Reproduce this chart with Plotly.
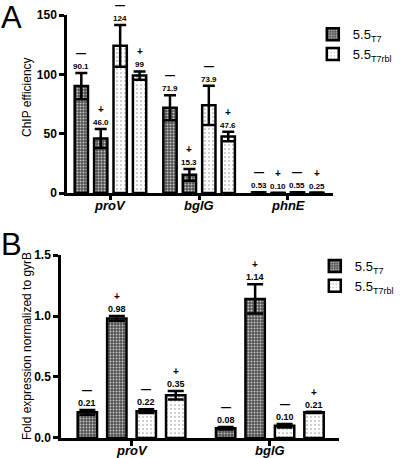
import plotly.graph_objects as go

# ---------------- Data: panel A (ChIP efficiency) ----------------
genes_A = ["proV", "bglG", "phnE"]
A_t7_minus = [90.1, 71.9, 0.53]
A_t7_minus_err = [11, 10.5, 0]
A_t7_plus = [46.0, 15.3, 0.10]
A_t7_plus_err = [8, 5, 0]
A_rbl_minus = [124, 73.9, 0.55]
A_rbl_minus_err = [17.5, 16.5, 0]
A_rbl_plus = [99, 47.6, 0.25]
A_rbl_plus_err = [3.5, 4, 0]
A_lbl_t7_minus = ["90.1", "71.9", "0.53"]
A_lbl_t7_plus = ["46.0", "15.3", "0.10"]
A_lbl_rbl_minus = ["124", "73.9", "0.55"]
A_lbl_rbl_plus = ["99", "47.6", "0.25"]
A_yticks = [0, 50, 100, 150]

# ---------------- Data: panel B (fold expression) ----------------
genes_B = ["proV", "bglG"]
B_t7_minus = [0.21, 0.08]
B_t7_minus_err = [0.02, 0.01]
B_t7_plus = [0.98, 1.14]
B_t7_plus_err = [0.02, 0.12]
B_rbl_minus = [0.22, 0.10]
B_rbl_minus_err = [0.015, 0.015]
B_rbl_plus = [0.35, 0.21]
B_rbl_plus_err = [0.035, 0.006]
B_lbl_t7_minus = ["0.21", "0.08"]
B_lbl_t7_plus = ["0.98", "1.14"]
B_lbl_rbl_minus = ["0.22", "0.10"]
B_lbl_rbl_plus = ["0.35", "0.21"]
B_yticks = [0, 0.5, 1.0, 1.5]

series_names = ["5.5<sub>T7</sub>", "5.5<sub>T7rbl</sub>"]
signs = ["—", "+"]

FONT = "Liberation Sans, Arial, sans-serif"
pat_dark = dict(shape=".", bgcolor="#505050", fgcolor="#c4c4c4", size=3, solidity=0.35, fillmode="replace")
pat_light = dict(shape=".", bgcolor="#ffffff", fgcolor="#8a8a8a", size=4, solidity=0.12, fillmode="replace")

fig = go.Figure()
annotations = []


def add_panel(genes, minus1, err_m1, plus1, err_p1, minus2, err_m2, plus2, err_p2,
              lbls, d, w, xa, ya, legend, errw, lblsize):
    xs1, ys1, es1, xs2, ys2, es2 = [], [], [], [], [], []
    for i in range(len(genes)):
        xs1 += [i - 1.5 * d, i - 0.5 * d]
        ys1 += [minus1[i], plus1[i]]
        es1 += [err_m1[i], err_p1[i]]
        xs2 += [i + 0.5 * d, i + 1.5 * d]
        ys2 += [minus2[i], plus2[i]]
        es2 += [err_m2[i], err_p2[i]]
    for name, xs, ys, es, pat in [(series_names[0], xs1, ys1, es1, pat_dark),
                                  (series_names[1], xs2, ys2, es2, pat_light)]:
        fig.add_trace(go.Bar(
            x=xs, y=ys, width=w, name=name, xaxis=xa, yaxis=ya, legend=legend,
            marker=dict(color="#ffffff", pattern=pat, line=dict(color="black", width=2.5)),
            error_y=dict(type="data", array=es, visible=True, color="black",
                         thickness=2.5, width=errw),
            cliponaxis=False,
        ))
    (l_m1, l_p1, l_m2, l_p2) = lbls
    for i in range(len(genes)):
        items = [(i - 1.5 * d, minus1[i] + err_m1[i], l_m1[i], signs[0]),
                 (i - 0.5 * d, plus1[i] + err_p1[i], l_p1[i], signs[1]),
                 (i + 0.5 * d, minus2[i] + err_m2[i], l_m2[i], signs[0]),
                 (i + 1.5 * d, plus2[i] + err_p2[i], l_p2[i], signs[1])]
        for x, y, t, s in items:
            annotations.append(dict(x=x, y=y, xref=xa, yref=ya, text="<b>%s</b>" % t,
                                    showarrow=False, yanchor="bottom", yshift=0,
                                    font=dict(size=lblsize, family=FONT, color="black")))
            annotations.append(dict(x=x, y=y, xref=xa, yref=ya, text="<b>%s</b>" % s,
                                    showarrow=False, yanchor="bottom", yshift=12,
                                    font=dict(size=10, family=FONT, color="black")))
    # category labels under the axis
    for i, g in enumerate(genes):
        annotations.append(dict(x=i, y=0, xref=xa, yref=ya, text="<b><i>%s</i></b>" % g,
                                showarrow=False, yanchor="top", yshift=-3,
                                font=dict(size=13, family=FONT, color="black")))


add_panel(genes_A, A_t7_minus, A_t7_minus_err, A_t7_plus, A_t7_plus_err,
          A_rbl_minus, A_rbl_minus_err, A_rbl_plus, A_rbl_plus_err,
          (A_lbl_t7_minus, A_lbl_t7_plus, A_lbl_rbl_minus, A_lbl_rbl_plus),
          d=0.219, w=0.150, xa="x", ya="y", legend="legend", errw=6, lblsize=8)
add_panel(genes_B, B_t7_minus, B_t7_minus_err, B_t7_plus, B_t7_plus_err,
          B_rbl_minus, B_rbl_minus_err, B_rbl_plus, B_rbl_plus_err,
          (B_lbl_t7_minus, B_lbl_t7_plus, B_lbl_rbl_minus, B_lbl_rbl_plus),
          d=0.213, w=0.140, xa="x2", ya="y2", legend="legend2", errw=8, lblsize=9)

axis_common = dict(showline=True, linecolor="black", linewidth=2.5, ticks="outside",
                   tickcolor="black", tickwidth=2.5, showgrid=False, zeroline=False,
                   automargin=False)

fig.update_layout(
    width=400, height=458,
    margin=dict(l=0, r=0, t=0, b=0, autoexpand=False),
    paper_bgcolor="white", plot_bgcolor="white",
    barmode="overlay",
    font=dict(family=FONT, color="black"),
    xaxis=dict(domain=[0.1675, 0.8325], range=[-0.49, 2.51], anchor="y",
               tickvals=list(range(len(genes_A))), showticklabels=False,
               ticklen=4, **axis_common),
    yaxis=dict(domain=[0.5786, 0.9672], range=[0, 150], anchor="x",
               tickvals=A_yticks, ticklen=5,
               tickfont=dict(size=12, family=FONT, weight="bold"), **axis_common),
    xaxis2=dict(domain=[0.1525, 0.8475], range=[-0.51, 1.5], anchor="y2",
                tickvals=list(range(len(genes_B))), showticklabels=False,
                ticklen=5, **axis_common),
    yaxis2=dict(domain=[0.0437, 0.4432], range=[0, 1.5], anchor="x2",
                tickvals=B_yticks, tickformat=".1f", ticklen=5,
                tickfont=dict(size=12, family=FONT, weight="bold"), **axis_common),
    legend=dict(x=0.782, y=0.958, xanchor="left", yanchor="top",
                font=dict(size=13, family=FONT), bgcolor="rgba(0,0,0,0)"),
    legend2=dict(x=0.787, y=0.452, xanchor="left", yanchor="top",
                 font=dict(size=13, family=FONT), bgcolor="rgba(0,0,0,0)"),
    showlegend=True,
)

annotations += [
    dict(x=11 / 400, y=1 - 17 / 458, xref="paper", yref="paper", text="A", showarrow=False,
         font=dict(size=31, family=FONT), xanchor="center", yanchor="middle"),
    dict(x=11 / 400, y=1 - 244 / 458, xref="paper", yref="paper", text="B", showarrow=False,
         font=dict(size=31, family=FONT), xanchor="center", yanchor="middle"),
    dict(x=27 / 400, y=1 - 97 / 458, xref="paper", yref="paper", text="ChIP efficiency",
         textangle=-90, showarrow=False, font=dict(size=12, family=FONT),
         xanchor="center", yanchor="middle"),
    dict(x=27 / 400, y=1 - 346 / 458, xref="paper", yref="paper",
         text="Fold expression normalized to gyrB",
         textangle=-90, showarrow=False, font=dict(size=12, family=FONT),
         xanchor="center", yanchor="middle"),
]
fig.update_layout(annotations=annotations)

fig.write_html("out.html", config={"displayModeBar": False},
               post_script="document.body.style.margin='0px';")
